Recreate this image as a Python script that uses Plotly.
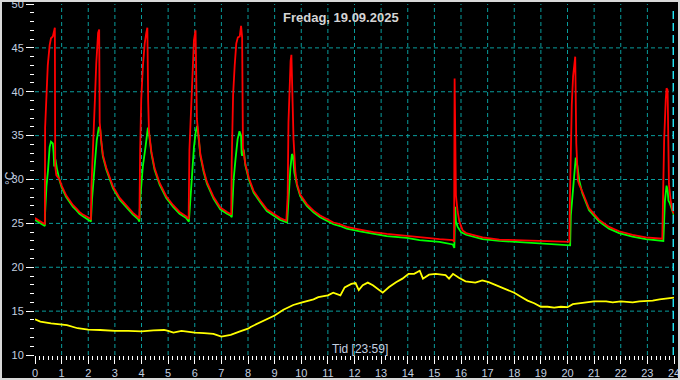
import plotly.graph_objects as go

# ---------------- data ----------------
red_t = [0.0, 0.15, 0.3, 0.37, 0.38, 0.42, 0.48, 0.55, 0.6, 0.67, 0.71, 0.745, 0.76, 0.8, 0.92, 1.0, 1.17, 1.3, 1.42, 1.55, 1.67, 1.8, 1.95, 2.1,
         2.12, 2.2, 2.25, 2.3, 2.34, 2.37, 2.41, 2.43, 2.49, 2.55, 2.68, 2.93, 3.18, 3.43, 3.68, 3.87, 3.92,
         3.95, 3.99, 4.05, 4.12, 4.18, 4.22, 4.25, 4.28, 4.37, 4.49, 4.68, 4.93, 5.18, 5.43, 5.68, 5.77,
         5.80, 5.85, 5.9, 5.93, 5.97, 6.03, 6.08, 6.15, 6.21, 6.34, 6.46, 6.71, 6.96, 7.21, 7.37,
         7.39, 7.44, 7.5, 7.56, 7.62, 7.69, 7.74, 7.78, 7.81, 7.9, 8.03, 8.21, 8.46, 8.71, 8.96, 9.21, 9.44,
         9.49, 9.52, 9.56, 9.6, 9.63, 9.66, 9.71, 9.78, 9.84, 9.96, 10.21, 10.46, 10.71, 10.96, 11.21, 11.46, 11.71, 12.21, 12.71, 13.21, 13.96, 14.44, 15.19, 15.69, 15.74,
         15.76, 15.79, 15.81, 15.875, 15.94, 16.06, 16.19, 16.44, 16.81, 17.44, 18.69, 19.94, 20.07,
         20.09, 20.125, 20.16, 20.21, 20.25, 20.29, 20.33, 20.39, 20.44, 20.56, 20.81, 21.19, 21.56, 21.94, 22.44, 22.94, 23.56,
         23.63, 23.69, 23.72, 23.76, 23.79, 23.81, 23.875, 23.94, 24.0]
red_v = [25.6, 25.3, 25.0, 24.9, 35.9, 39.6, 43.0, 45.3, 46.1, 46.3, 47.0, 47.3, 31.5, 30.5, 30.0, 29.3, 28.2, 27.6, 27.1, 26.7, 26.3, 26.0, 25.7, 25.5,
         29.2, 34.5, 39.1, 43.2, 45.7, 46.7, 47.1, 36.5, 34.4, 32.8, 31.3, 29.2, 27.9, 27.0, 26.2, 25.7, 25.5,
         33.4, 39.1, 42.8, 45.5, 46.7, 47.3, 39.0, 35.5, 33.2, 31.3, 29.6, 28.1, 27.1, 26.3, 25.8, 25.5,
         33.4, 37.6, 41.0, 43.6, 45.9, 47.0, 36.9, 34.8, 32.9, 31.0, 29.7, 28.0, 26.8, 26.3, 26.0,
         32.2, 39.6, 43.0, 45.5, 46.2, 46.3, 47.5, 46.2, 33.6, 31.8, 30.2, 28.7, 27.6, 26.6, 26.1, 25.6, 25.3,
         28.1, 36.5, 40.6, 43.5, 44.2, 39.9, 34.6, 30.8, 29.5, 28.3, 27.2, 26.45, 25.9, 25.5, 25.1, 24.9, 24.6, 24.3, 24.0, 23.8, 23.55, 23.4, 23.2, 23.1, 22.9,
         41.5, 33.7, 28.2, 26.3, 25.2, 24.2, 23.9, 23.7, 23.4, 23.15, 23.05, 22.9, 22.9,
         27.6, 35.3, 38.5, 41.75, 43.3, 44.0, 34.1, 29.9, 29.4, 28.6, 26.7, 25.4, 24.6, 24.1, 23.7, 23.4, 23.25,
         34.5, 39.1, 40.4, 40.2, 34.5, 29.5, 27.6, 26.5, 26.1]

green_t = [0.0, 0.15, 0.3, 0.37, 0.38, 0.43, 0.49, 0.55, 0.6, 0.67, 0.7, 0.72, 0.77, 0.82, 0.92, 1.0, 1.17, 1.3, 1.42, 1.55, 1.67, 1.8, 1.95, 2.1,
           2.14, 2.2, 2.26, 2.32, 2.40, 2.45, 2.49, 2.55, 2.68, 2.93, 3.18, 3.43, 3.68, 3.87, 3.92,
           3.95, 4.05, 4.15, 4.24, 4.28, 4.37, 4.49, 4.68, 4.93, 5.18, 5.43, 5.68, 5.78,
           5.84, 5.9, 5.97, 6.04, 6.09, 6.15, 6.21, 6.34, 6.46, 6.71, 6.96, 7.21, 7.34, 7.39,
           7.46, 7.53, 7.61, 7.68, 7.74, 7.76, 7.78, 7.84, 7.9, 8.03, 8.21, 8.46, 8.71, 8.96, 9.21, 9.47,
           9.52, 9.59, 9.65, 9.69, 9.74, 9.84, 9.96, 10.21, 10.46, 10.71, 10.96, 11.21, 11.46, 11.71, 12.21, 12.71, 13.21, 13.96, 14.44, 15.19, 15.56, 15.69, 15.75,
           15.78, 15.81, 15.875, 16.0, 16.19, 16.81, 17.44, 18.06, 18.69, 19.19, 19.56, 20.1,
           20.125, 20.19, 20.25, 20.31, 20.375, 20.44, 20.56, 20.81, 21.19, 21.56, 21.94, 22.44, 22.94, 23.6,
           23.66, 23.72, 23.76, 23.79, 23.84, 23.94, 24.0]
green_v = [25.4, 25.1, 24.9, 24.7, 26.2, 29.2, 31.1, 33.7, 34.3, 34.1, 33.0, 31.5, 32.3, 31.3, 29.9, 29.1, 28.0, 27.4, 26.9, 26.5, 26.1, 25.8, 25.5, 25.2,
           27.7, 29.9, 33.0, 34.5, 36.0, 35.7, 34.2, 32.6, 31.1, 29.0, 27.7, 26.8, 26.0, 25.5, 25.2,
           27.7, 31.5, 33.7, 35.9, 35.3, 33.0, 31.1, 29.4, 27.9, 26.9, 26.1, 25.6, 25.2,
           28.2, 31.3, 33.7, 35.5, 36.1, 34.6, 32.7, 30.8, 29.5, 27.8, 26.6, 26.1, 25.9, 25.7,
           30.0, 32.3, 34.6, 35.5, 35.0, 33.0, 32.7, 33.4, 31.6, 30.0, 28.5, 27.4, 26.4, 25.9, 25.4, 25.1,
           28.3, 31.2, 32.9, 32.7, 30.8, 29.3, 28.1, 27.0, 26.25, 25.7, 25.3, 24.9, 24.7, 24.4, 24.1, 23.8, 23.55, 23.35, 23.1, 22.9, 22.7, 22.6, 22.2,
           26.9, 25.2, 24.6, 24.0, 23.7, 23.2, 23.0, 22.9, 22.8, 22.7, 22.6, 22.5,
           25.9, 28.4, 31.1, 32.5, 31.5, 29.9, 28.4, 26.5, 25.2, 24.4, 23.9, 23.5, 23.2, 23.0,
           27.6, 29.3, 28.8, 27.6, 27.3, 26.3, 25.9]

yellow_t = [0.0, 0.2, 0.6, 1.0, 1.2, 1.6, 2.0, 2.45, 3.0, 3.5, 4.0, 4.45, 4.85, 5.0, 5.2, 5.5, 6.0, 6.35, 6.7, 7.0, 7.35, 7.7, 8.0,
            8.1, 8.47, 9.0, 9.33, 9.7, 10.0, 10.46, 10.64, 11.0, 11.2, 11.47, 11.63, 11.88, 12.04, 12.16, 12.31, 12.5, 12.69, 12.87, 13.06,
            13.3, 13.56, 13.8, 14.03, 14.24, 14.45, 14.57, 14.8, 15.05, 15.24, 15.42, 15.55, 15.7, 15.92, 16.17, 16.54, 16.8, 17.04, 17.25,
            17.5, 17.75, 18.0, 18.25, 18.5, 18.75, 19.0, 19.25, 19.5, 19.75, 20.0, 20.2, 20.45, 20.7, 21.0, 21.45, 21.7, 22.0, 22.45, 22.7,
            23.0, 23.2, 23.46, 23.77, 24.0]
yellow_v = [14.06, 13.8, 13.6, 13.5, 13.4, 13.05, 12.9, 12.85, 12.75, 12.75, 12.7, 12.8, 12.85, 12.75, 12.55, 12.75, 12.55, 12.5, 12.4, 12.1, 12.3, 12.7, 13.0,
            13.2, 13.7, 14.5, 15.15, 15.7, 15.97, 16.35, 16.6, 16.8, 17.1, 16.8, 17.7, 18.1, 18.2, 17.4, 17.95, 18.25, 17.95, 17.5, 17.1,
            17.75, 18.3, 18.7, 19.25, 19.25, 19.6, 18.7, 19.15, 19.25, 19.2, 19.1, 18.7, 19.25, 18.8, 18.4, 18.25, 18.5, 18.3, 18.05,
            17.7, 17.4, 17.1, 16.65, 16.2, 15.9, 15.5, 15.5, 15.4, 15.5, 15.45, 15.8, 15.9, 16.0, 16.1, 16.1, 16.0, 16.1, 16.0, 16.1,
            16.15, 16.2, 16.35, 16.5, 16.55]

grid_x = list(range(1, 24))
grid_y = [15, 20, 25, 30, 35, 40, 45]

now_hour = 23 + 59 / 60
title_text = "Fredag, 19.09.2025"
x_title = "Tid [23:59]"
y_title = "°C"

# ---------------- figure ----------------
W, H = 680, 380
ML, MR, MT, MB = 35, 6, 4, 25
tick_col = "#c4d0e0"
grid_col = "#089c9c"
font_fam = "Liberation Sans Narrow, Arial Narrow, Liberation Sans, Arial, sans-serif"

fig = go.Figure()
fig.add_trace(go.Scatter(x=yellow_t, y=yellow_v, mode="lines",
                         line=dict(color="#ffff00", width=1.8), hoverinfo="skip"))
fig.add_trace(go.Scatter(x=green_t, y=green_v, mode="lines",
                         line=dict(color="#00ff00", width=1.8), hoverinfo="skip"))
fig.add_trace(go.Scatter(x=red_t, y=red_v, mode="lines",
                         line=dict(color="#ff0000", width=1.8), hoverinfo="skip"))

pw = W - ML - MR
ph = H - MT - MB

def px2x(px):
    return (px - ML) / pw

def py2y(py):
    return (H - MB - py) / ph

fig.update_layout(
    width=W, height=H,
    margin=dict(l=ML, r=MR, t=MT, b=MB, autoexpand=False),
    paper_bgcolor="#000000", plot_bgcolor="#000000",
    showlegend=False,
    xaxis=dict(range=[0, 24], tick0=0, dtick=1, ticks="outside", ticklen=8, tickcolor="#ffffff",
               tickwidth=1, showgrid=False, ticklabeloverflow="allow",
               zeroline=False, showline=False, automargin=False,
               tickfont=dict(family=font_fam, size=11, color=tick_col),
               minor=dict(dtick=1 / 6, ticks="outside", ticklen=4, tickcolor="#ffffff", showgrid=False)),
    yaxis=dict(range=[10, 50], tick0=10, dtick=5, ticks="outside", ticklen=8, tickcolor="#ffffff",
               tickwidth=1, showgrid=False, ticklabeloverflow="allow",
               zeroline=False, showline=False, automargin=False,
               tickfont=dict(family=font_fam, size=11, color=tick_col),
               minor=dict(dtick=1, ticks="outside", ticklen=4, tickcolor="#ffffff", showgrid=False)),
)

# dashed grid (inner lines only)
for gx in grid_x:
    fig.add_shape(type="line", xref="x", yref="paper", x0=gx, x1=gx, y0=0, y1=1, layer="below",
                  line=dict(color=grid_col, width=1, dash="4px,3px"))
for gy in grid_y:
    fig.add_shape(type="line", xref="paper", yref="y", x0=0, x1=1, y0=gy, y1=gy, layer="below",
                  line=dict(color=grid_col, width=1, dash="4px,3px"))

# current time marker
fig.add_shape(type="line", xref="x", yref="y", x0=now_hour, x1=now_hour, y0=10, y1=49.2,
              line=dict(color="#22e4f4", width=2, dash="8px,4px"))

# outer frame
fig.add_shape(type="rect", xref="paper", yref="paper",
              x0=px2x(1), x1=px2x(679), y0=py2y(379), y1=py2y(1),
              line=dict(color="#d8d8d8", width=2))

fig.add_annotation(text=title_text, xref="paper", yref="paper", x=px2x(340.5), y=py2y(17),
                   xanchor="center", yanchor="middle", showarrow=False,
                   font=dict(family="Liberation Sans, Arial, sans-serif", size=13, color="#d4d4d4", weight="bold"))
fig.add_annotation(text=x_title, xref="paper", yref="paper", x=px2x(359.5), y=py2y(349),
                   xanchor="center", yanchor="middle", showarrow=False,
                   font=dict(family="Liberation Sans, Arial, sans-serif", size=12, color=tick_col))
fig.add_annotation(text=y_title, xref="paper", yref="paper", x=px2x(10), y=py2y(178),
                   xanchor="center", yanchor="middle", showarrow=False, textangle=-90,
                   font=dict(family="Liberation Sans, Arial, sans-serif", size=12, color=tick_col))

fig.write_html("out.html", config={"displayModeBar": False, "staticPlot": True},
               post_script="document.body.style.margin='0';document.body.style.padding='0';"
                           "document.body.style.overflow='hidden';document.body.style.background='#000';")
